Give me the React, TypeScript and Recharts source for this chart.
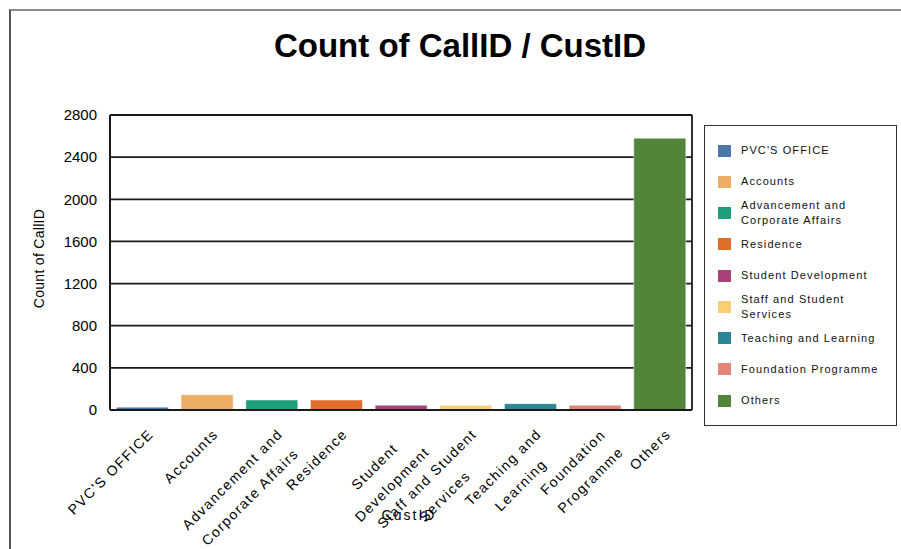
import { Bar, BarChart, CartesianGrid, Cell, XAxis, YAxis } from "recharts";

const categories = [
  "PVC'S OFFICE",
  "Accounts",
  "Advancement and Corporate Affairs",
  "Residence",
  "Student Development",
  "Staff and Student Services",
  "Teaching and Learning",
  "Foundation Programme",
  "Others",
];
const callCounts = [27, 145, 95, 95, 45, 45, 60, 45, 2580];
const barColors = [
  "#4b77a9",
  "#eeac64",
  "#1f9e7d",
  "#e06e2b",
  "#a8437a",
  "#f7d072",
  "#2a8697",
  "#e2867a",
  "#52843a",
];
// wrapped axis labels, one array of lines per category
const tickLines = [
  ["PVC'S OFFICE"],
  ["Accounts"],
  ["Advancement and", "Corporate Affairs"],
  ["Residence"],
  ["Student", "Development"],
  ["Staff and Student", "Services"],
  ["Teaching and", "Learning"],
  ["Foundation", "Programme"],
  ["Others"],
];
const yTicks = [0, 400, 800, 1200, 1600, 2000, 2400, 2800];

const chartData = categories.map((name, i) => ({ name, count: callCounts[i] }));

const FONT = "'Liberation Sans', Arial, sans-serif";
const TICK_SIZE = 14;
const TICK_SPACING = 1.5;
const LINE_GAP = 25;
const INK = "#1a1a1a";

let measureCtx: CanvasRenderingContext2D | null = null;
const textWidth = (s: string) => {
  if (!measureCtx) measureCtx = document.createElement("canvas").getContext("2d");
  if (!measureCtx) return s.length * TICK_SIZE * 0.55;
  measureCtx.font = `${TICK_SIZE}px ${FONT}`;
  return measureCtx.measureText(s).width + s.length * TICK_SPACING;
};

// rotated, centre-aligned multi-line category label hanging off the axis
const CategoryTick = ({ x, y, payload }: any) => {
  const idx = categories.indexOf(payload.value);
  const lines = tickLines[idx] ?? [String(payload.value)];
  const widest = Math.max(...lines.map(textWidth));
  return (
    <text
      transform={`translate(${x + 12},${y + 25}) rotate(-45)`}
      fontSize={TICK_SIZE}
      fontFamily={FONT}
      letterSpacing={TICK_SPACING}
      fill="#000"
      textAnchor="middle"
    >
      {lines.map((line, i) => (
        <tspan key={i} x={-widest / 2} y={i * LINE_GAP}>
          {line}
        </tspan>
      ))}
    </text>
  );
};

const Legend = () => (
  <div
    style={{
      position: "absolute",
      left: 704,
      top: 125,
      width: 193,
      height: 301,
      border: "1.5px solid #333",
      paddingTop: 9,
      boxSizing: "border-box",
    }}
  >
    {categories.map((name, i) => (
      <div
        key={name}
        style={{ height: 31.25, display: "flex", alignItems: "center" }}
      >
        <span
          style={{
            width: 13,
            height: 12,
            marginLeft: 13,
            marginRight: 10,
            background: barColors[i],
            flex: "none",
          }}
        />
        <span
          style={{
            fontSize: 11,
            letterSpacing: 1.1,
            lineHeight: "15px",
            color: "#111",
            width: 145,
          }}
        >
          {name}
        </span>
      </div>
    ))}
  </div>
);

export default function App() {
  return (
    <div
      style={{
        position: "absolute",
        left: 0,
        top: 0,
        width: 901,
        height: 549,
        overflow: "hidden",
        background: "#fff",
        fontFamily: FONT,
      }}
    >
      <div
        style={{
          position: "absolute",
          left: 9,
          top: 9,
          width: 900,
          height: 560,
          borderTop: "2px solid #8a8a8a",
          borderLeft: "2px solid #555",
        }}
      />
      <div
        style={{
          position: "absolute",
          left: 60,
          top: 29,
          width: 800,
          textAlign: "center",
          fontSize: 33,
          lineHeight: "33px",
          fontWeight: "bold",
          color: "#000",
        }}
      >
        Count of CallID / CustID
      </div>
      <div style={{ position: "absolute", left: 0, top: 0 }}>
        <BarChart
          width={901}
          height={549}
          data={chartData}
          margin={{ top: 115, right: 209, left: 10, bottom: 0 }}
          barCategoryGap="10%"
        >
          <CartesianGrid
            stroke={INK}
            strokeWidth={1.8}
            verticalCoordinatesGenerator={({ offset }: any) => [
              offset.left,
              offset.left + offset.width,
            ]}
          />
          <XAxis
            dataKey="name"
            interval={0}
            height={139}
            tickLine={false}
            tickSize={0}
            tickMargin={0}
            axisLine={{ stroke: INK, strokeWidth: 1.8 }}
            tick={<CategoryTick />}
            label={{
              content: ({ viewBox }: any) => (
                <text
                  x={viewBox.x + viewBox.width / 2 + 8}
                  y={viewBox.y + 110}
                  textAnchor="middle"
                  fontSize={14}
                  letterSpacing={2}
                  fontFamily={FONT}
                  fill="#000"
                >
                  CustID
                </text>
              ),
            }}
          />
          <YAxis
            width={100}
            domain={[0, 2800]}
            ticks={yTicks}
            interval={0}
            tickLine={false}
            tickSize={0}
            tickMargin={13}
            axisLine={{ stroke: INK, strokeWidth: 1.8 }}
            tick={{ fontSize: 15, fill: "#000", fontFamily: FONT }}
            label={{
              content: ({ viewBox }: any) => (
                <text
                  transform={`translate(${viewBox.x + 34},${viewBox.y + viewBox.height / 2 - 4}) rotate(-90)`}
                  textAnchor="middle"
                  fontSize={14}
                  letterSpacing={0.3}
                  fontFamily={FONT}
                  fill="#000"
                >
                  Count of CallID
                </text>
              ),
            }}
          />
          <Bar
            dataKey="count"
            isAnimationActive={false}
            stroke="rgba(255,255,255,0.45)"
            strokeWidth={1}
          >
            {chartData.map((d, i) => (
              <Cell key={d.name} fill={barColors[i]} />
            ))}
          </Bar>
        </BarChart>
      </div>
      <Legend />
    </div>
  );
}
